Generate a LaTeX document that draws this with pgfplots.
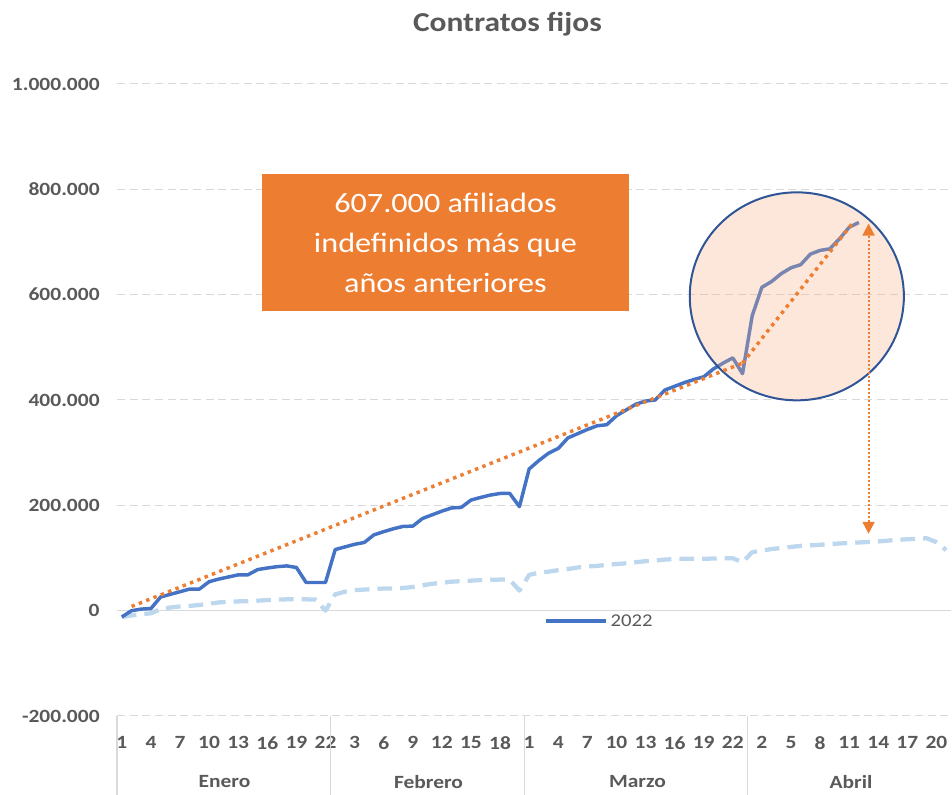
\documentclass[border=0pt]{standalone}
\usepackage{fontspec}
\setmainfont{Carlito}[FakeStretch=1.15]
\usepackage{pgfplots}
\pgfplotsset{compat=1.18}
\usetikzlibrary{arrows.meta}
\definecolor{txt}{HTML}{595959}
\definecolor{gridc}{HTML}{D9D9D9}
\definecolor{blue22}{HTML}{4472C4}
\definecolor{lightb}{HTML}{BDD7EE}
\definecolor{orng}{HTML}{ED7D31}
\definecolor{circb}{HTML}{2F5597}
\definecolor{circf}{HTML}{F4B183}

\begin{document}
\begin{tikzpicture}
\useasboundingbox (0,0) rectangle (714pt,596.25pt);
\begin{axis}[
  at={(87.75pt,59.25pt)}, anchor=south west,
  scale only axis, width=625.5pt, height=474pt,
  xmin=0.5, xmax=86.5, ymin=-200000, ymax=1000000,
  scaled y ticks=false,
  xtick={1,4,...,85},
  xticklabels={1,4,7,10,13,16,19,22,3,6,9,12,15,18,1,4,7,10,13,16,19,22,2,5,8,11,14,17,20},
  ytick={-200000,0,200000,400000,600000,800000,1000000},
  yticklabels={-200.000,0,200.000,400.000,600.000,800.000,1.000.000},
  ymajorgrids, grid style={draw=gridc, line width=0.75pt, dash pattern=on 6pt off 3.5pt},
  axis line style={draw=none}, major tick length=0pt,
  tick label style={font=\fontsize{14}{16}\selectfont\bfseries, text=txt},
  yticklabel style={xshift=-9.5pt},
  xticklabel style={yshift=-12pt},
  clip=false,
  legend style={at={(0.579,0.150)}, anchor=center, draw=none, fill=none,
    font=\fontsize{13.5}{15}\selectfont, text=txt},
  legend image code/.code={\draw[#1] (0pt,0pt) -- (45pt,0pt);},
]
\draw[gridc, line width=1.1pt] (axis cs:0.5,0) -- (axis cs:86.5,0);

% años anteriores (serie clara)
\addplot[forget plot, lightb, line width=3.2pt, dash pattern=on 11pt off 6pt, line join=round] coordinates {
(1,-12000) (2,-9000) (3,-7000) (4,-5000) (5,3000) (6,6000) (7,8000) (8,9000)
(9,10800) (10,13000) (11,15700) (12,17000) (13,17600) (14,18000) (15,19000)
(16,20000) (17,21000) (18,21500) (19,21500) (20,21500) (21,21000) (22,0)
(23,31000) (24,36000) (25,39000) (26,40000) (27,41000) (28,42000) (29,42000)
(30,43000) (31,45000) (32,48000) (33,51000) (34,53000) (35,55000) (36,56000)
(37,57000) (38,58000) (39,58500) (40,59000) (41,59000) (42,38000) (43,68000)
(44,72000) (45,74000) (46,77000) (47,79000) (48,82000) (49,84000) (50,85000)
(51,87000) (52,88500) (53,90000) (54,92000) (55,94000) (56,95000) (57,97000)
(58,98000) (59,98500) (60,98500) (61,98500) (62,99000) (63,99500) (64,99500)
(65,92000) (66,111000) (67,114000) (68,117000) (69,119000) (70,121000)
(71,123000) (72,124000) (73,125000) (74,126500) (75,127500) (76,128500)
(77,129500) (78,130500) (79,131500) (80,133000) (81,134500) (82,135500)
(83,136500) (84,137500) (85,130000) (86,115000)};

% 2022
\addplot[blue22, line width=2.6pt, line join=round] coordinates {
(1,-12000) (2,0) (3,3000) (4,4000) (5,26000) (6,31000) (7,36000) (8,41000)
(9,41000) (10,55000) (11,60000) (12,64000) (13,68000) (14,68000) (15,78000)
(16,81000) (17,83500) (18,85000) (19,82000) (20,53500) (21,53500) (22,53500)
(23,116000) (24,121000) (25,126000) (26,129500) (27,144000) (28,150000)
(29,155500) (30,160000) (31,160500) (32,175000) (33,182000) (34,189000)
(35,195000) (36,196000) (37,210000) (38,215000) (39,219500) (40,222500)
(41,222500) (42,197500) (43,269000) (44,285000) (45,299000) (46,308000)
(47,328000) (48,336000) (49,344000) (50,351000) (51,353000) (52,370000)
(53,381000) (54,392000) (55,398000) (56,400000) (57,419000) (58,426000)
(59,433000) (60,439000) (61,444000) (62,459000) (63,470000) (64,480000)
(65,450000) (66,560000) (67,614000) (68,625000) (69,640000) (70,651000)
(71,657000) (72,677000) (73,684000) (74,687000) (75,706000) (76,728000)
(77,737000)};
\addlegendentry{2022}

\draw[circb, line width=1.5pt, fill=circf, fill opacity=0.3]
  (axis cs:70.6,596800) ellipse [x radius=80.3pt, y radius=78pt];

% tendencias
\addplot[forget plot, orng, line width=2.6pt, dash pattern=on 2.6pt off 3.3pt]
  coordinates {(2,8000) (65,470000)};
\addplot[forget plot, orng, line width=2.6pt, dash pattern=on 2.6pt off 3.3pt]
  coordinates {(65,470000) (76.4,737000)};

\draw[orng, line width=1.5pt, dash pattern=on 1.5pt off 1.5pt,
  {Triangle[width=9pt,length=9pt]}-{Triangle[width=9pt,length=9pt]}]
  (axis cs:78,146000) -- (axis cs:78,735000);
\end{axis}

% separadores de meses
\foreach \xx in {87.75,247.75,393.2,560.5}
  \draw[gridc, line width=1pt] (\xx pt,0pt) -- (\xx pt,59.25pt);
\foreach \xx/\mm in {168.4/Enero,321.4/Febrero,478.1/Marzo,638.2/Abril}
  \node[font=\fontsize{14}{16}\selectfont\bfseries, text=txt] at (\xx pt,9.75pt) {\mm};

\node[font=\fontsize{20.5}{24}\selectfont\bfseries, text=txt, anchor=base]
  at (380.6pt,572.5pt) {Contratos fijos};

\node[fill=orng, minimum width=275.25pt, minimum height=102.75pt, text=white,
  align=center, font=\fontsize{21}{30}\selectfont]
  at (334.1pt,414.4pt) {607.000 afiliados\\indefinidos más que\\años anteriores};
\end{tikzpicture}
\end{document}
